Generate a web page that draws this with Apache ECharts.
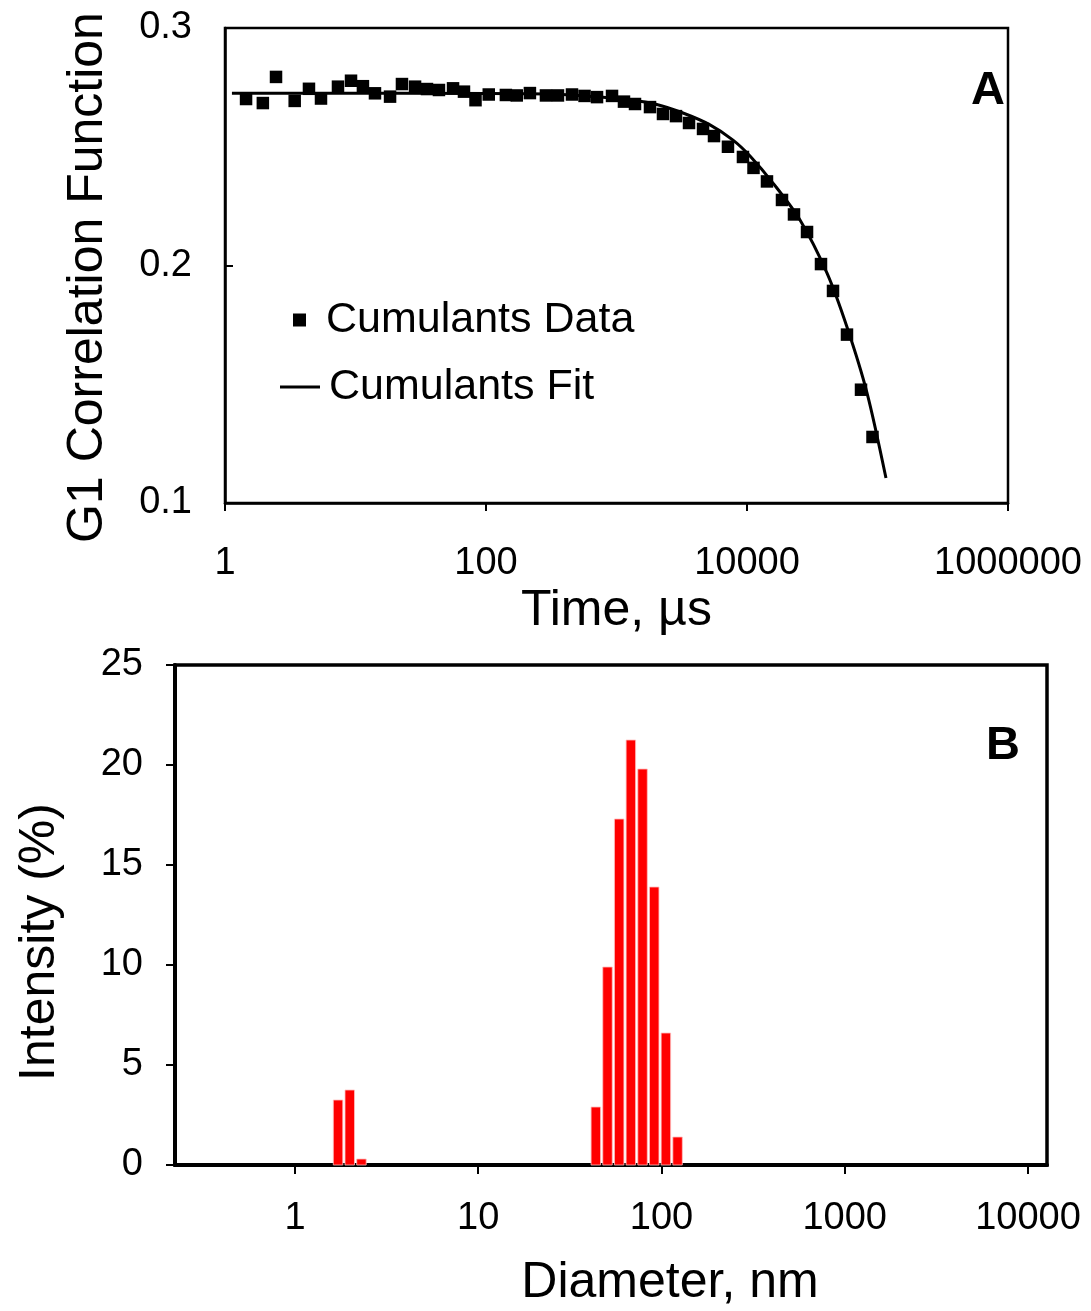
<!DOCTYPE html>
<html>
<head>
    <meta charset="utf-8">
    <style>
        html, body { width: 100%; height: 100%; margin: 0; background: #fff; }
        #chart-panel { width: 1091px; height: 1311px; }
    </style>
    <script src="https://cdn.jsdelivr.net/npm/echarts@6/dist/echarts.min.js"></script>
</head>
<body>
<div id="chart-panel"></div>
<script type="text/javascript">
  // panel A: correlogram (time in us, G1)
  var timeUs = [1.45, 1.95, 2.46, 3.42, 4.40, 5.44, 7.34, 9.24, 11.4, 14.1, 18.4, 22.7, 28.6, 35.3,
    43.6, 55.9, 67.8, 83.1, 105, 142, 172, 217, 288, 356, 456, 569, 709, 924, 1141, 1386, 1806,
    2271, 2858, 3595, 4603, 5586, 7148, 9312, 11216, 14227, 18541, 22914, 28840, 36898, 45616,
    58366, 74757, 91554]
  var g1Data = [0.2701, 0.2684, 0.2794, 0.2693, 0.2744, 0.2703, 0.2753, 0.2778, 0.2755, 0.2725,
    0.2711, 0.2764, 0.2753, 0.2743, 0.2739, 0.2746, 0.2732, 0.2696, 0.2720, 0.2718, 0.2716, 0.2726,
    0.2716, 0.2716, 0.2720, 0.2714, 0.2709, 0.2714, 0.2690, 0.2680, 0.2667, 0.2638, 0.2629, 0.2600,
    0.2575, 0.2545, 0.2500, 0.2457, 0.2411, 0.2354, 0.2276, 0.2215, 0.2141, 0.2006, 0.1893, 0.1709,
    0.1477, 0.1278]
  var fitTime = [1.13, 21.9, 309, 748, 1269, 1972, 3233, 5205, 7813, 10544, 15818, 25480, 41040,
    58366, 83176, 116140]
  var fitG1 = [0.2725, 0.2725, 0.2722, 0.2709, 0.2697, 0.2680, 0.2642, 0.2592, 0.2528, 0.2461,
    0.2347, 0.2192, 0.1968, 0.1741, 0.1463, 0.1105]
  var timeTicks = [1, 100, 10000, 1000000]

  // panel B: size distribution by intensity
  var diameterNm = [1.718, 1.990, 2.305, 43.82, 50.75, 58.77, 68.06, 78.82, 91.28, 105.7, 122.4]
  var intensityPct = [3.25, 3.75, 0.3, 2.9, 9.9, 17.3, 21.25, 19.8, 13.9, 6.6, 1.4]
  var diameterTicks = [1, 10, 100, 1000, 10000]

  var font = "'Liberation Sans', Arial, sans-serif"

  var pairs = function (xs, ys) { return xs.map(function (x, i) { return [x, ys[i]] }) }
  var plain = function (v) { return String(v) }

  var myChart = echarts.init(document.getElementById('chart-panel'))

  var option = {
    animation: false,
    textStyle: { fontFamily: font, color: '#000' },
    title: [
      { text: 'A', left: 966, top: 63, textStyle: { fontFamily: font, fontSize: 47, fontWeight: 'bold', color: '#000' } },
      { text: 'B', left: 981, top: 718, textStyle: { fontFamily: font, fontSize: 47, fontWeight: 'bold', color: '#000' } }
    ],
    legend: [
      {
        data: ['Cumulants Data'],
        left: 288, top: 293,
        itemWidth: 13, itemHeight: 13,
        textStyle: { fontFamily: font, fontSize: 43, color: '#000', lineHeight: 44, padding: [0, 0, 0, 15] }
      },
      {
        data: [{ name: 'Cumulants Fit', icon: 'rect' }],
        left: 275, top: 360,
        itemWidth: 40, itemHeight: 3,
        textStyle: { fontFamily: font, fontSize: 43, color: '#000', lineHeight: 44, padding: [0, 0, 0, 4] }
      }
    ],
    grid: [
      { left: 225, top: 28, width: 783, height: 475, show: true, borderColor: '#000', borderWidth: 2.5 },
      { left: 175, top: 665, width: 872, height: 500, show: true, borderColor: '#000', borderWidth: 3.5 }
    ],
    xAxis: [
      {
        gridIndex: 0, type: 'log', min: 1, max: 1000000,
        name: 'Time, µs', nameLocation: 'middle', nameGap: 83,
        nameTextStyle: { fontFamily: font, fontSize: 50, color: '#000' },
        axisLine: { lineStyle: { color: '#000', width: 2.5 } },
        axisTick: { customValues: timeTicks, length: 8, lineStyle: { color: '#000', width: 2 } },
        axisLabel: { customValues: timeTicks, margin: 42, fontSize: 38, color: '#000', fontFamily: font, formatter: plain },
        splitLine: { show: false }
      },
      {
        gridIndex: 1, type: 'log', min: 0.2214, max: 12700,
        name: 'Diameter, nm', nameLocation: 'middle', nameGap: 93,
        nameTextStyle: { fontFamily: font, fontSize: 50, color: '#000', padding: [0, 0, 0, 118] },
        axisLine: { lineStyle: { color: '#000', width: 4 } },
        axisTick: { customValues: diameterTicks, length: 9, lineStyle: { color: '#000', width: 2 } },
        axisLabel: { customValues: diameterTicks, margin: 35, fontSize: 38, color: '#000', fontFamily: font, formatter: plain },
        splitLine: { show: false }
      }
    ],
    yAxis: [
      {
        gridIndex: 0, type: 'value', min: 0.1, max: 0.3, interval: 0.1,
        name: 'G1 Correlation Function', nameLocation: 'middle', nameGap: 112,
        nameTextStyle: { fontFamily: font, fontSize: 50, color: '#000', padding: [0, 24, 0, 0] },
        axisLine: { show: true, lineStyle: { color: '#000', width: 2.5 } },
        axisTick: { show: true, inside: true, length: 8, lineStyle: { color: '#000', width: 2 } },
        axisLabel: { margin: 33, fontSize: 38, color: '#000', fontFamily: font,
          formatter: function (v) { return v.toFixed(1) } },
        splitLine: { show: false }
      },
      {
        gridIndex: 1, type: 'value', min: 0, max: 25, interval: 5,
        name: 'Intensity (%)', nameLocation: 'middle', nameGap: 110,
        nameTextStyle: { fontFamily: font, fontSize: 50, color: '#000', padding: [0, 54, 0, 0] },
        axisLine: { show: true, lineStyle: { color: '#000', width: 4 } },
        axisTick: { show: true, length: 9, lineStyle: { color: '#000', width: 2 } },
        axisLabel: { margin: 32, fontSize: 38, color: '#000', fontFamily: font },
        splitLine: { show: false }
      }
    ],
    series: [
      {
        name: 'Cumulants Fit',
        type: 'line',
        xAxisIndex: 0, yAxisIndex: 0,
        data: pairs(fitTime, fitG1),
        smooth: 0.3,
        symbol: 'none',
        lineStyle: { color: '#000', width: 3 },
        itemStyle: { color: '#000' },
        z: 2
      },
      {
        name: 'Cumulants Data',
        type: 'scatter',
        xAxisIndex: 0, yAxisIndex: 0,
        data: pairs(timeUs, g1Data),
        symbol: 'rect',
        symbolSize: 12.5,
        itemStyle: { color: '#000', opacity: 1 },
        z: 3
      },
      {
        name: 'Intensity',
        type: 'custom',
        xAxisIndex: 1, yAxisIndex: 1,
        data: pairs(diameterNm, intensityPct),
        encode: { x: 0, y: 1 },
        renderItem: function (params, api) {
          var top = api.coord([api.value(0), api.value(1)])
          var base = api.coord([api.value(0), 0])
          var w = 9.5
          return {
            type: 'rect',
            shape: { x: top[0] - w / 2, y: top[1], width: w, height: base[1] - top[1] },
            style: { fill: '#ff0000', stroke: '#ffc0c0', lineWidth: 0.8 }
          }
        }
      }
    ]
  }

  myChart.setOption(option)
</script>
</body>
</html>
